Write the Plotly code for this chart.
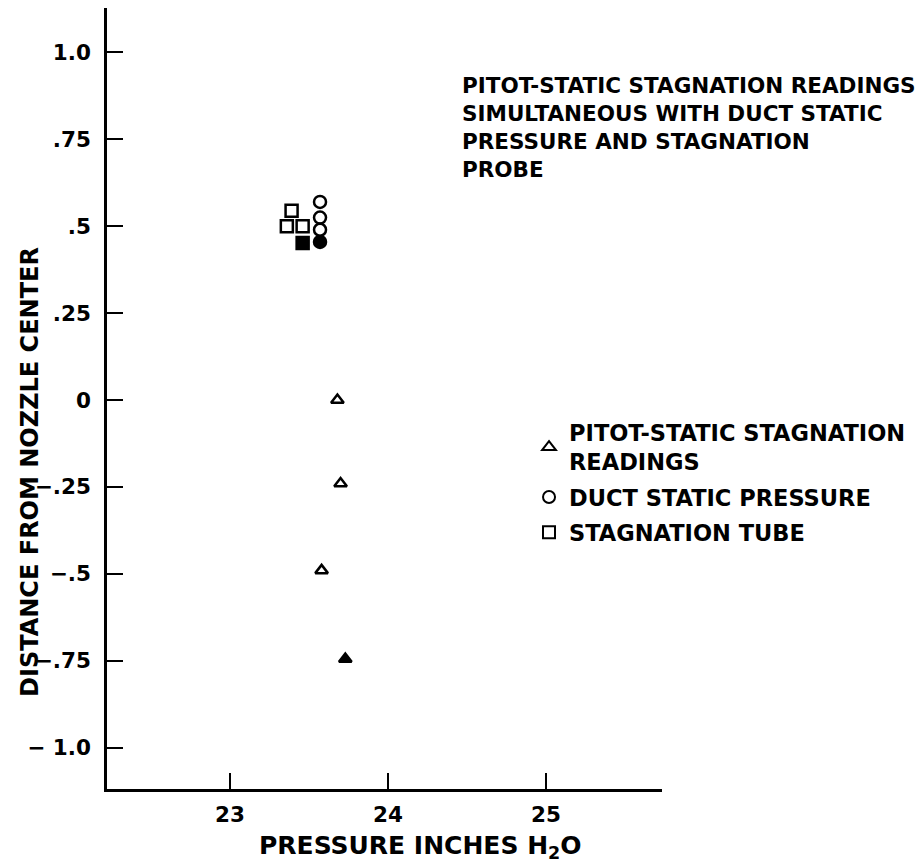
import plotly.graph_objects as go

# ---- data ----
tri_x = [23.68, 23.70, 23.58]
tri_y = [0.0, -0.24, -0.49]
tri_fill_x = [23.73]
tri_fill_y = [-0.745]

circ_x = [23.57, 23.57, 23.57]
circ_y = [0.57, 0.525, 0.49]
circ_fill_x = [23.57]
circ_fill_y = [0.455]

sq_x = [23.39, 23.36, 23.46]
sq_y = [0.545, 0.50, 0.50]
sq_fill_x = [23.46]
sq_fill_y = [0.452]

x_tick_vals = [23, 24, 25]
x_tick_text = ["23", "24", "25"]
y_tick_vals = [1.0, 0.75, 0.5, 0.25, 0, -0.25, -0.5, -0.75, -1.0]
y_tick_text = ["1.0", ".75", ".5", ".25", "0", "\u2212.25", "\u2212.5", "\u2212.75", "\u2212 1.0"]

FONT = "DejaVu Sans, Verdana, sans-serif"
INK = "black"
FS = 21.5

fig = go.Figure()

def add(x, y, symbol, name, group, filled=False, legend=True, size=12):
    fig.add_trace(go.Scatter(
        x=x, y=y, mode="markers", name=name, showlegend=legend, legendgroup=group,
        marker=dict(symbol=symbol, size=size,
                    color=INK if filled else "white",
                    line=dict(color=INK, width=2.5)),
        hoverinfo="skip",
    ))

add(tri_x, tri_y, "triangle-up", "PITOT-STATIC STAGNATION<br>READINGS", "tri", size=11)
add(circ_x, circ_y, "circle", "DUCT STATIC PRESSURE", "circ", size=12)
add(sq_x, sq_y, "square", "STAGNATION TUBE", "sq", size=12)
add(tri_fill_x, tri_fill_y, "triangle-up", "filled triangle", "tri", filled=True, legend=False, size=11)
add(circ_fill_x, circ_fill_y, "circle", "filled circle", "circ", filled=True, legend=False, size=12)
add(sq_fill_x, sq_fill_y, "square", "filled square", "sq", filled=True, legend=False, size=12)

fig.update_layout(
    width=919, height=868,
    margin=dict(l=107, r=257, t=8, b=79),
    paper_bgcolor="white", plot_bgcolor="white",
    font=dict(family=FONT, size=FS, color=INK, weight="bold"),
    showlegend=True,
    legend=dict(
        x=0.7604, y=0.4836, xanchor="left", yanchor="top",
        xref="paper", yref="paper",
        bgcolor="rgba(0,0,0,0)", borderwidth=0,
        font=dict(family=FONT, size=22.5, color=INK, weight="bold"),
        itemsizing="constant", tracegroupgap=3,
    ),
    xaxis=dict(
        range=[22.222, 25.734], showgrid=False, zeroline=False,
        showline=True, linecolor=INK, linewidth=2.5,
        ticks="inside", ticklen=16, tickwidth=2, tickcolor=INK,
        tickvals=x_tick_vals, ticktext=x_tick_text,
        tickfont=dict(family=FONT, size=FS, color=INK, weight="bold"),
        ticklabelstandoff=4,
    ),
    yaxis=dict(
        range=[-1.119, 1.128], showgrid=False, zeroline=False,
        showline=True, linecolor=INK, linewidth=2.5,
        ticks="inside", ticklen=16, tickwidth=2, tickcolor=INK,
        tickvals=y_tick_vals, ticktext=y_tick_text,
        tickfont=dict(family=FONT, size=FS, color=INK, weight="bold"),
        ticklabelstandoff=9,
    ),
    annotations=[
        dict(text="PITOT-STATIC STAGNATION READINGS<br>SIMULTANEOUS WITH DUCT STATIC<br>PRESSURE AND STAGNATION<br>PROBE",
             x=0.636, y=0.9193, xref="paper", yref="paper",
             xanchor="left", yanchor="top", align="left", showarrow=False,
             font=dict(family=FONT, size=FS, color=INK, weight="bold")),
        dict(text="DISTANCE FROM NOZZLE CENTER",
             x=-0.1387, y=0.406, xref="paper", yref="paper",
             xanchor="center", yanchor="middle", textangle=-90, showarrow=False,
             font=dict(family=FONT, size=24, color=INK, weight="bold")),
        dict(text="PRESSURE INCHES H<sub>2</sub>O",
             x=0.564, y=-0.0743, xref="paper", yref="paper",
             xanchor="center", yanchor="middle", showarrow=False,
             font=dict(family=FONT, size=25, color=INK, weight="bold")),
    ],
)

fig.write_html("out.html")
